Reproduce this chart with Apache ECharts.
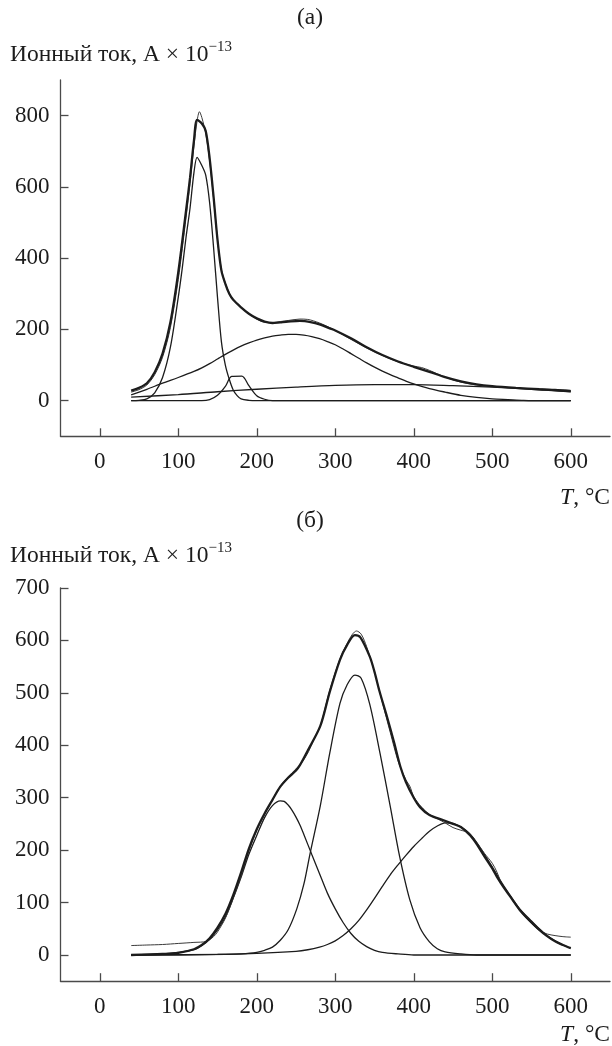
<!DOCTYPE html>
<html>
<head>
<meta charset="utf-8">
<script src="https://cdn.jsdelivr.net/npm/echarts@6/dist/echarts.min.js"></script>
<style>
html,body{margin:0;padding:0;background:#fff;}
#c{width:612px;height:1046px;}
</style>
</head>
<body>
<div id="c"></div>
<script>
// ---------- tick values ----------
const xTicks = [0, 100, 200, 300, 400, 500, 600];
const yTicksA = [0, 200, 400, 600, 800];
const yTicksB = [0, 100, 200, 300, 400, 500, 600, 700];

// ---------- panel (а) ----------
const expA = [[40,24],[50,31],[60,44],[70,73],[80,122],[90,205],[100,340],[110,515],[115,610],[120,715],[124,785],[127,811],[130,795],[135,750],[140,672],[145,568],[150,452],[155,368],[160,330],[165,302],[170,284],[180,262],[190,244],[200,229],[210,220],[220,219],[230,222],[240,225],[255,229],[265,228],[280,218],[293,205],[300,197],[320,172],[340,148],[360,127],[380,109],[400,97],[410,93],[420,85],[440,66],[460,52],[480,44],[500,40],[530,35],[560,33],[580,31],[600,29]];
const fitA = [[40,28],[50,36],[60,49],[70,80],[80,132],[90,220],[100,360],[110,535],[115,625],[120,730],[124,788],[130,778],[135,757],[140,680],[145,572],[150,452],[155,365],[160,328],[165,300],[170,283],[180,262],[190,244],[200,231],[210,222],[220,218],[230,220],[240,222],[255,224],[270,220],[280,214],[293,203],[300,197],[320,175],[340,150],[360,128],[380,110],[400,95],[420,81],[440,66],[460,54],[480,46],[500,41],[530,36],[560,32],[580,30],[600,27]];
const peak1A = [[40,0],[50,1],[60,5],[70,22],[80,65],[90,150],[100,290],[105,370],[110,460],[115,540],[120,640],[124,683],[130,660],[135,633],[140,555],[145,430],[150,290],[155,165],[160,100],[165,60],[170,30],[175,14],[180,5],[190,1],[200,0],[600,0]];
const peak2A = [[40,0],[130,0],[140,3],[150,15],[160,40],[168,68],[181,69],[190,42],[200,14],[210,4],[220,0],[600,0]];
const peak3A = [[40,16],[60,32],[80,49],[100,65],[120,82],[130,92],[140,104],[150,117],[160,130],[170,142],[180,153],[190,162],[200,170],[210,176],[220,181],[230,184],[240,186],[250,186],[260,184],[270,180],[280,174],[290,166],[300,157],[310,145],[320,132],[330,119],[340,106],[350,94],[360,83],[370,73],[380,64],[390,55],[400,47],[420,34],[440,24],[460,15],[480,9],[500,5],[520,3],[540,1],[560,0],[600,0]];
const peak4A = [[40,10],[100,17],[150,25],[200,32],[250,38],[300,43],[350,45],[400,45],[450,42],[500,38],[550,32],[600,25]];

// ---------- panel (б) ----------
const expB = [[40,18],[60,19],[80,20],[100,22],[120,24],[136,26],[145,35],[150,44],[160,70],[170,108],[180,150],[190,198],[200,238],[210,268],[220,296],[230,322],[240,340],[250,355],[258,368],[266,388],[272,408],[281,437],[293,505],[306,565],[315,594],[322,612],[327,618],[333,612],[340,588],[350,540],[360,482],[370,425],[380,370],[390,334],[395,322],[400,302],[410,282],[420,268],[430,260],[440,252],[450,243],[460,238],[470,233],[480,215],[490,194],[500,175],[506,158],[512,136],[520,118],[530,95],[540,76],[550,60],[560,47],[570,40],[580,37],[590,35],[600,34]];
const fitB = [[40,0],[80,2],[100,4],[120,11],[130,19],[140,32],[150,52],[160,78],[170,114],[180,157],[190,203],[200,240],[210,270],[220,296],[230,321],[240,338],[250,352],[255,362],[265,390],[281,437],[293,502],[306,563],[315,591],[325,610],[332,606],[344,569],[350,540],[356,505],[366,454],[375,405],[383,359],[390,330],[400,300],[408,282],[420,267],[438,257],[450,250],[460,244],[472,228],[480,212],[490,188],[500,165],[506,149],[515,128],[525,107],[535,86],[548,65],[560,48],[569,37],[580,26],[590,19],[600,13]];
const peak1B = [[40,0],[80,2],[100,5],[120,10],[130,18],[140,30],[150,48],[160,72],[170,108],[180,148],[190,192],[200,228],[210,262],[220,285],[230,294],[235,293],[240,286],[245,276],[250,263],[255,248],[260,230],[270,192],[280,155],[290,118],[300,88],[310,62],[320,41],[330,26],[340,16],[350,9],[360,5],[380,2],[400,0],[600,0]];
const peak2B = [[40,0],[160,1],[180,2],[200,5],[210,9],[220,15],[230,28],[240,48],[251,88],[260,135],[268,194],[281,285],[293,385],[306,480],[315,515],[325,534],[333,528],[344,478],[357,385],[370,284],[382,188],[395,105],[408,52],[420,25],[430,12],[440,6],[460,2],[480,0],[600,0]];
const peak3B = [[40,0],[150,1],[200,3],[250,7],[265,10],[280,15],[290,20],[300,27],[310,37],[320,50],[330,66],[340,86],[350,108],[360,131],[370,153],[380,172],[390,190],[400,207],[410,222],[420,236],[430,246],[440,252],[450,251],[460,244],[470,233],[480,215],[490,192],[500,168],[510,143],[520,120],[535,88],[548,68],[560,50],[569,38],[580,27],[590,19],[600,13]];

const FONT = 'Liberation Serif';
const INK = '#1c1c1c';
const AX = '#4a4a4a';
const TICKFS = 23;
const TITLEFS = 23.5;

function xAxisCfg(gi) {
  return {
    gridIndex: gi, type: 'value', min: -50, max: 650,
    axisLine: { show: true, onZero: false, lineStyle: { color: AX, width: 1.3 } },
    axisTick: { show: true, inside: true, length: 8, customValues: xTicks, lineStyle: { color: AX, width: 1.3 } },
    axisLabel: { customValues: xTicks, margin: 14, fontFamily: FONT, fontSize: TICKFS, color: INK },
    splitLine: { show: false }
  };
}
function yAxisCfg(gi, min, max, ticks) {
  return {
    gridIndex: gi, type: 'value', min: min, max: max,
    axisLine: { show: true, onZero: false, lineStyle: { color: AX, width: 1.3 } },
    axisTick: { show: true, inside: true, length: 8, customValues: ticks, lineStyle: { color: AX, width: 1.3 } },
    axisLabel: { customValues: ticks, margin: 11, fontFamily: FONT, fontSize: TICKFS, color: INK },
    splitLine: { show: false }
  };
}
function line(data, gi, width, color, z) {
  return {
    type: 'line', xAxisIndex: gi, yAxisIndex: gi, data: data,
    showSymbol: false, smooth: 0.3, silent: true, z: z,
    lineStyle: { color: color, width: width }
  };
}
function yTitle(y) {
  return { type: 'text', x: 10, y: y, style: { text: '{m|Ионный ток, А × 10}{s|−13}', fill: INK, align: 'left', verticalAlign: 'top',
    rich: { m: { fontFamily: FONT, fontSize: TITLEFS, fill: INK, lineHeight: 27, verticalAlign: 'bottom' },
            s: { fontFamily: FONT, fontSize: 15, fill: INK, lineHeight: 15, verticalAlign: 'top' } } } };
}
function xTitle(y) {
  return { type: 'text', x: 610, y: y, style: { text: '{i|T}{n|, °C}', align: 'right', verticalAlign: 'middle',
    rich: { i: { fontFamily: FONT, fontSize: TITLEFS, fontStyle: 'italic', fill: INK }, n: { fontFamily: FONT, fontSize: TITLEFS, fill: INK } } } };
}

const chart = echarts.init(document.getElementById('c'), null, { renderer: 'canvas' });
chart.setOption({
  animation: false,
  backgroundColor: '#fff',
  grid: [
    { left: 60.5, top: 80, width: 549.5, height: 356.3 },
    { left: 60.5, top: 588, width: 549.5, height: 393.2 }
  ],
  xAxis: [xAxisCfg(0), xAxisCfg(1)],
  yAxis: [yAxisCfg(0, -100, 900, yTicksA), yAxisCfg(1, -50, 700, yTicksB)],
  series: [
    line(peak4A, 0, 1.3, INK, 2),
    line(peak3A, 0, 1.3, INK, 2),
    line(peak2A, 0, 1.3, INK, 2),
    line(peak1A, 0, 1.3, INK, 2),
    line(expA, 0, 1.0, '#3a3a3a', 3),
    line(fitA, 0, 2.3, INK, 4),
    line(peak3B, 1, 1.3, INK, 2),
    line(peak2B, 1, 1.3, INK, 2),
    line(peak1B, 1, 1.3, INK, 2),
    line(expB, 1, 1.0, '#3a3a3a', 3),
    line(fitB, 1, 2.3, INK, 4)
  ],
  graphic: [
    { type: 'text', x: 310, y: 18, style: { text: '(а)', font: TITLEFS + 'px "Liberation Serif"', fill: INK, align: 'center', verticalAlign: 'middle' } },
    yTitle(40),
    xTitle(498),
    { type: 'text', x: 310, y: 521, style: { text: '(б)', font: TITLEFS + 'px "Liberation Serif"', fill: INK, align: 'center', verticalAlign: 'middle' } },
    yTitle(541),
    xTitle(1035)
  ]
});
</script>
</body>
</html>
